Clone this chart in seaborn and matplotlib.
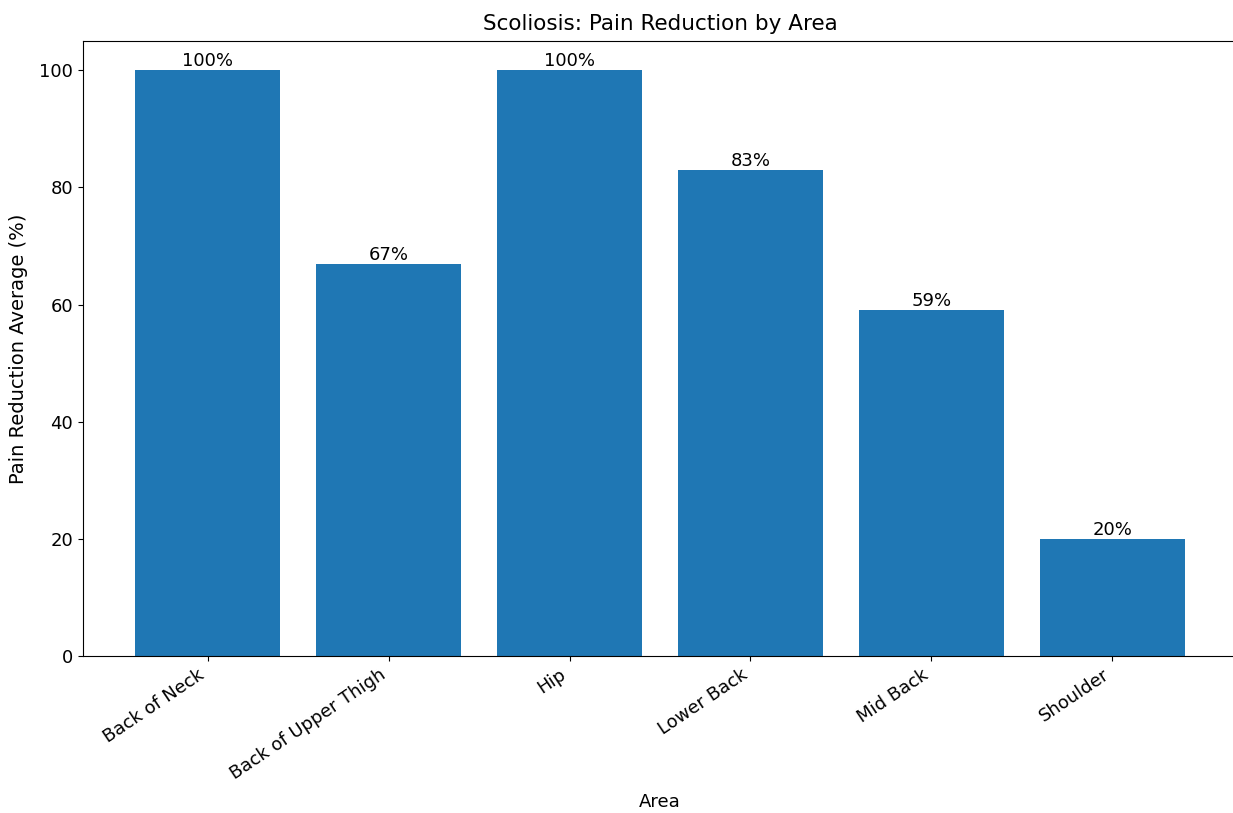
import matplotlib
matplotlib.use("Agg")
import matplotlib.pyplot as plt
import seaborn as sns
import pandas as pd

# 数据
areas = ["Back of Neck", "Back of Upper Thigh", "Hip", "Lower Back", "Mid Back", "Shoulder"]
reduction = [100, 67, 100, 83, 59, 20]

plt.rcParams['font.family'] = ['DejaVu Sans']

df = pd.DataFrame({"Area": areas, "Reduction": reduction})

fig = plt.figure(figsize=(12.33, 8.13), dpi=100)
ax = fig.add_axes([83 / 1233, 157 / 813, 1154 / 1233, 615 / 813])

sns.barplot(data=df, x="Area", y="Reduction", color="#1f77b4", saturation=1,
            width=0.8, linewidth=0, ax=ax)
ax.set_xlim(-0.69, 5.69)
ax.set_ylim(0, 105)

for c in ax.containers:
    ax.bar_label(c, labels=[f"{v}%" for v in reduction], fontsize=13)

ax.set_title("Scoliosis: Pain Reduction by Area", fontsize=15.5, pad=8)
ax.set_xlabel("Area", fontsize=13, labelpad=7)
ax.set_ylabel("Pain Reduction Average (%)", fontsize=14, labelpad=8)
ax.tick_params(axis='both', labelsize=13)
plt.setp(ax.get_xticklabels(), rotation=34, ha='right')

fig.savefig("out.png", dpi=100)
